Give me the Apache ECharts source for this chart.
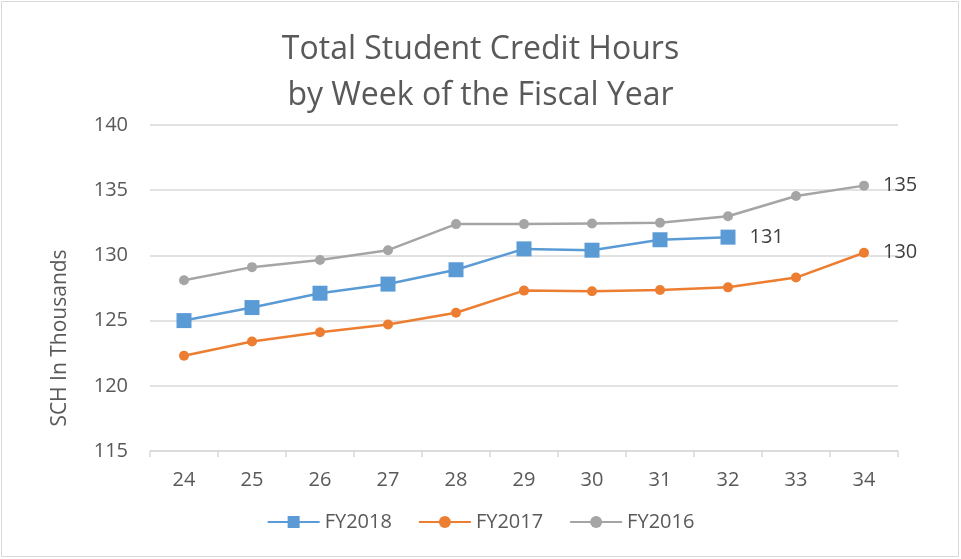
<!DOCTYPE html>
<html>
<head>
<meta charset="utf-8">
<title>Total Student Credit Hours</title>
<script src="https://cdn.jsdelivr.net/npm/echarts@6/dist/echarts.min.js"></script>
<style>
  html, body { margin: 0; padding: 0; background: #fff; }
  #main-chart { width: 961px; height: 559px; }
</style>
</head>
<body>
<div id="main-chart"></div>
<script>
// 数据
const weeks = ['24', '25', '26', '27', '28', '29', '30', '31', '32', '33', '34'];
const fy2018 = [125.0, 126.0, 127.1, 127.8, 128.9, 130.5, 130.4, 131.2, 131.4, null, null];
const fy2017 = [122.3, 123.4, 124.1, 124.7, 125.6, 127.3, 127.25, 127.35, 127.55, 128.3, 130.2];
const fy2016 = [128.1, 129.1, 129.65, 130.4, 132.4, 132.4, 132.45, 132.5, 133.0, 134.55, 135.35];

const textColor = '#595959';
const gridColor = '#d9d9d9';
const fontFamily = '"Open Sans", "Noto Sans", sans-serif';

// 最后一个有效点显示数值标签
function withEndLabel(arr) {
    let last = -1;
    arr.forEach((v, i) => { if (v != null) last = i; });
    return arr.map((v, i) => i === last ? {
        value: v,
        label: {
            show: true,
            position: 'right',
            distance: 14,
            formatter: p => Math.round(p.value),
            color: '#404040',
            fontSize: 20,
            fontFamily: fontFamily
        }
    } : v);
}

window.addEventListener('DOMContentLoaded', () => {
    const chart = echarts.init(document.getElementById('main-chart'));

    chart.setOption({
        backgroundColor: '#fff',
        animation: false,
        textStyle: { fontFamily: fontFamily },
        title: {
            text: 'Total Student Credit Hours\nby Week of the Fiscal Year',
            left: 'center',
            top: 22,
            textStyle: {
                color: textColor,
                fontSize: 32,
                fontWeight: 'normal',
                lineHeight: 46,
                fontFamily: fontFamily
            }
        },
        graphic: [
            {
                type: 'rect',
                shape: { x: 1.5, y: 1.5, width: 957, height: 555 },
                style: { fill: 'none', stroke: gridColor, lineWidth: 1 },
                silent: true
            },
            {
                type: 'text',
                x: 60,
                y: 338,
                rotation: Math.PI / 2,
                style: {
                    text: 'SCH In Thousands',
                    fill: textColor,
                    fontSize: 21,
                    fontFamily: fontFamily,
                    align: 'center',
                    verticalAlign: 'middle'
                }
            }
        ],
        legend: {
            bottom: 22,
            left: 'center',
            itemWidth: 52,
            itemHeight: 15,
            itemGap: 26,
            textStyle: { color: textColor, fontSize: 20 },
            data: ['FY2018', 'FY2017', 'FY2016']
        },
        grid: { left: 150, right: 63, top: 125, bottom: 108 },
        xAxis: {
            type: 'category',
            boundaryGap: true,
            data: weeks,
            axisLine: { lineStyle: { color: gridColor, width: 1.5 } },
            axisTick: { show: true, length: 6, lineStyle: { color: gridColor, width: 1.5 } },
            axisLabel: { color: textColor, fontSize: 20, margin: 19 }
        },
        yAxis: {
            type: 'value',
            min: 115,
            max: 140,
            interval: 5,
            axisLine: { show: false },
            axisTick: { show: false },
            axisLabel: { color: textColor, fontSize: 20, margin: 22 },
            splitLine: { lineStyle: { color: gridColor, width: 1.5 } }
        },
        series: [
            {
                name: 'FY2018',
                type: 'line',
                data: withEndLabel(fy2018),
                symbol: 'rect',
                symbolSize: 15,
                z: 4,
                lineStyle: { color: '#5b9bd5', width: 2.5 },
                itemStyle: { color: '#5b9bd5' }
            },
            {
                name: 'FY2017',
                type: 'line',
                data: withEndLabel(fy2017),
                symbol: 'circle',
                symbolSize: 10,
                z: 3,
                lineStyle: { color: '#ed7d31', width: 2.5 },
                itemStyle: { color: '#ed7d31' }
            },
            {
                name: 'FY2016',
                type: 'line',
                data: withEndLabel(fy2016),
                symbol: 'circle',
                symbolSize: 10,
                z: 2,
                lineStyle: { color: '#a5a5a5', width: 2.5 },
                itemStyle: { color: '#a5a5a5' }
            }
        ]
    });

    window.addEventListener('resize', () => chart.resize());
});
</script>
</body>
</html>
